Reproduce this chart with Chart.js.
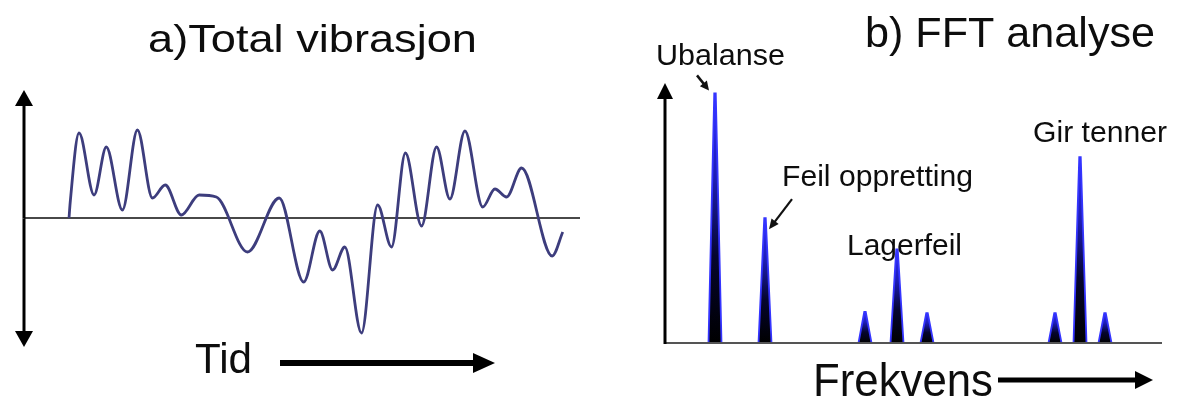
<!DOCTYPE html>
<html>
<head>
<meta charset="utf-8">
<script src="https://cdn.jsdelivr.net/npm/chart.js@4.4.1/dist/chart.umd.min.js"></script>
<style>
  html, body { margin: 0; padding: 0; background: #fff; }
  #wrap { position: relative; width: 1178px; height: 398px; overflow: hidden; background: #fff; }
  #vib { position: absolute; left: 0; top: 0; }
  #fft { position: absolute; left: 600px; top: 0; }
</style>
</head>
<body>
<div id="wrap">
  <canvas id="vib" width="600" height="398"></canvas>
  <canvas id="fft" width="578" height="398"></canvas>
</div>
<script>
// a) Time signal: time (arbitrary units) and the summed vibration amplitude
const timeValues = [8.1, 8.3, 9.9, 12.6, 14.8, 17.7, 20.4, 23.1, 25.4, 28.3, 31.5, 34.6,
  40.2, 45.9, 50.3, 53.2, 55.5, 57.7, 60.7, 63.6, 66.1, 68.6, 71.5, 74.2, 76.6, 79.3,
  82.5, 84.7, 86.8, 89.5, 95.0, 96.9];
const amplitudeValues = [0, 7.5, 42.5, 11.5, 35.5, 4, 44, 10, 16.5, 1.5, 11.5, 10.5,
  -17, 10, -32, -6.5, -26, -14.5, -57.5, 6.5, -14.5, 32.5, -4, 35.5, 9.5, 43.5,
  5.5, 14.5, 10.5, 25, -19, -7];

// b) Spectrum: peak frequency (multiple of running speed) and peak amplitude
const peakOrders = [1.0, 2.0, 4.0, 4.64, 5.24, 7.8, 8.3, 8.8];
const peakAmplitudes = [96, 48, 12, 36, 11.5, 11.5, 71.5, 11.5];
const peakHalfWidth = 0.13;
const peakTipHalfWidth = 0.015;

// Labels
const titleA = 'a)Total vibrasjon';
const titleB = 'b) FFT analyse';
const timeLabel = 'Tid';
const freqLabel = 'Frekvens';
const faultLabels = ['Ubalanse', 'Feil oppretting', 'Lagerfeil', 'Gir tenner'];

const FONT = '"Liberation Sans", Arial, Helvetica, sans-serif';

function stretchedText(ctx, text, left, baseline, size, width) {
  ctx.save();
  ctx.font = size + 'px ' + FONT;
  ctx.fillStyle = '#0d0d0d';
  ctx.textAlign = 'left';
  ctx.textBaseline = 'alphabetic';
  const w = ctx.measureText(text).width;
  const sx = width ? width / w : 1;
  ctx.translate(left, baseline);
  ctx.scale(sx, 1);
  ctx.fillText(text, 0, 0);
  ctx.restore();
}

function arrow(ctx, x1, y1, x2, y2, lw, headLen, headW, color) {
  const ang = Math.atan2(y2 - y1, x2 - x1);
  const bx = x2 - headLen * Math.cos(ang);
  const by = y2 - headLen * Math.sin(ang);
  ctx.save();
  ctx.strokeStyle = color;
  ctx.fillStyle = color;
  ctx.lineWidth = lw;
  ctx.lineCap = 'butt';
  ctx.beginPath();
  ctx.moveTo(x1, y1);
  ctx.lineTo(bx + Math.cos(ang), by + Math.sin(ang));
  ctx.stroke();
  ctx.beginPath();
  ctx.moveTo(x2, y2);
  ctx.lineTo(bx + headW / 2 * Math.sin(ang), by - headW / 2 * Math.cos(ang));
  ctx.lineTo(bx - headW / 2 * Math.sin(ang), by + headW / 2 * Math.cos(ang));
  ctx.closePath();
  ctx.fill();
  ctx.restore();
}

// ---------- a) time signal ----------
const vibDecor = {
  id: 'vibDecor',
  beforeDatasetsDraw(chart) {
    const { ctx, chartArea, scales } = chart;
    const y0 = scales.y.getPixelForValue(0);
    ctx.save();
    ctx.strokeStyle = '#484848';
    ctx.lineWidth = 2;
    ctx.beginPath();
    ctx.moveTo(chartArea.left, y0);
    ctx.lineTo(chartArea.right, y0);
    ctx.stroke();
    ctx.restore();
    const mid = (chartArea.top + chartArea.bottom) / 2;
    arrow(ctx, chartArea.left, mid, chartArea.left, chartArea.top, 3, 16, 18, '#000');
    arrow(ctx, chartArea.left, mid, chartArea.left, chartArea.bottom, 3, 16, 18, '#000');
  },
  afterDraw(chart) {
    const { ctx } = chart;
    stretchedText(ctx, titleA, 148, 52, 39, 329);
    stretchedText(ctx, timeLabel, 195, 373, 42, 57);
    arrow(ctx, 280, 363, 495, 363, 6, 22, 20, '#000');
  }
};

new Chart(document.getElementById('vib'), {
  type: 'line',
  data: {
    datasets: [{
      data: timeValues.map((t, i) => ({ x: t, y: amplitudeValues[i] })),
      borderColor: '#3d3d7d',
      borderWidth: 2.8,
      pointRadius: 0,
      fill: false,
      cubicInterpolationMode: 'monotone'
    }]
  },
  options: {
    responsive: false,
    animation: false,
    events: [],
    layout: { padding: { left: 24, right: 20, top: 90, bottom: 51 } },
    scales: {
      x: { type: 'linear', min: 0, max: 100, display: false },
      y: { type: 'linear', min: -64.5, max: 64, display: false }
    },
    plugins: { legend: { display: false }, tooltip: { enabled: false } }
  },
  plugins: [vibDecor]
});

// ---------- b) spectrum ----------
function peakFill(context) {
  const chart = context.chart;
  if (!chart.chartArea) return '#000';
  const ys = chart.scales.y;
  const i = context.datasetIndex;
  const top = ys.getPixelForValue(peakAmplitudes[i]);
  const bottom = ys.getPixelForValue(0);
  const g = chart.ctx.createLinearGradient(0, top, 0, bottom);
  g.addColorStop(0, '#3030ff');
  g.addColorStop(0.35, '#1c1cb0');
  g.addColorStop(0.65, '#05052e');
  g.addColorStop(1, '#000000');
  return g;
}

const fftDecor = {
  id: 'fftDecor',
  afterDatasetsDraw(chart) {
    const { ctx, chartArea, scales } = chart;
    const y0 = scales.y.getPixelForValue(0);
    ctx.save();
    ctx.strokeStyle = '#555';
    ctx.lineWidth = 2;
    ctx.beginPath();
    ctx.moveTo(chartArea.left, y0);
    ctx.lineTo(chartArea.right, y0);
    ctx.stroke();
    ctx.restore();
    arrow(ctx, chartArea.left, y0 + 1, chartArea.left, chartArea.top, 3, 16, 16, '#000');
  },
  afterDraw(chart) {
    const { ctx, scales } = chart;
    const xs = scales.x, ys = scales.y;
    stretchedText(ctx, titleB, 265, 47, 43, 290);
    stretchedText(ctx, freqLabel, 213, 396, 46, 180);
    arrow(ctx, 398, 380, 553, 380, 5, 18, 18, '#000');

    stretchedText(ctx, faultLabels[0], 56, 65, 29, 129);
    stretchedText(ctx, faultLabels[1], 182, 186, 29, 191);
    stretchedText(ctx, faultLabels[2], 247, 255, 29, 115);
    stretchedText(ctx, faultLabels[3], 433, 142, 29, 134);

    const ux = xs.getPixelForValue(peakOrders[0]);
    const uy = ys.getPixelForValue(peakAmplitudes[0]);
    arrow(ctx, ux - 18, uy - 18, ux - 6, uy - 3, 2.5, 9, 9, '#111');
    const fx = xs.getPixelForValue(peakOrders[1]);
    const fy = ys.getPixelForValue(peakAmplitudes[1]);
    arrow(ctx, fx + 27, fy - 19, fx + 4, fy + 11, 2.2, 10, 9, '#111');
  }
};

new Chart(document.getElementById('fft'), {
  type: 'line',
  data: {
    datasets: peakOrders.map((f, i) => ({
      data: [
        { x: f - peakHalfWidth, y: 0 },
        { x: f - peakTipHalfWidth, y: peakAmplitudes[i] },
        { x: f + peakTipHalfWidth, y: peakAmplitudes[i] },
        { x: f + peakHalfWidth, y: 0 }
      ],
      borderColor: '#3535ff',
      borderWidth: 1.8,
      backgroundColor: peakFill,
      fill: 'origin',
      pointRadius: 0,
      tension: 0
    }))
  },
  options: {
    responsive: false,
    animation: false,
    events: [],
    layout: { padding: { left: 65, right: 16, top: 83, bottom: 55 } },
    scales: {
      x: { type: 'linear', min: 0, max: 9.94, display: false },
      y: { type: 'linear', min: 0, max: 100, display: false }
    },
    plugins: { legend: { display: false }, tooltip: { enabled: false } }
  },
  plugins: [fftDecor]
});
</script>
</body>
</html>
